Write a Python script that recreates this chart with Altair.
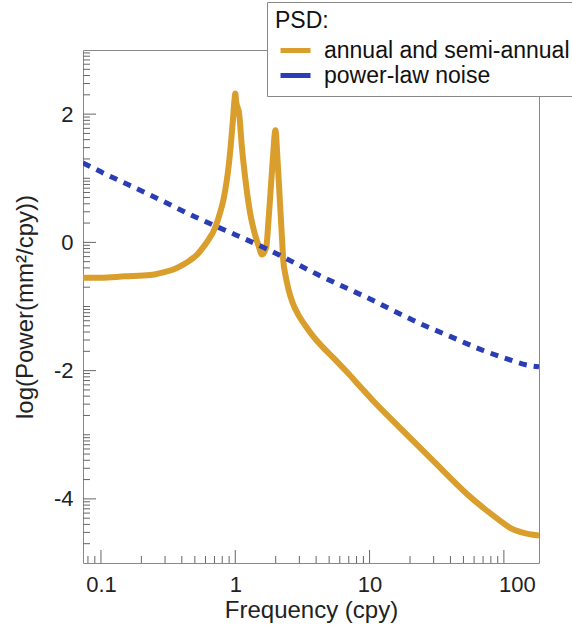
import altair as alt
import pandas as pd
import numpy as np

SERIES = ["annual and semi-annual", "power-law noise"]
COLORS = ["#D99E2B", "#2B3DB5"]

# annual + semi-annual PSD (frequency in cpy, log10 power)
seasonal_freq = [0.0735, 0.1, 0.15, 0.232, 0.30, 0.35, 0.40, 0.46, 0.52, 0.58,
                 0.64, 0.68, 0.72, 0.77, 0.81, 0.84, 0.88, 0.92, 0.96, 0.985,
                 1.0, 1.015, 1.07, 1.12, 1.19, 1.29, 1.39, 1.49, 1.58, 1.70,
                 1.77, 1.82, 1.91, 1.99, 2.07, 2.14, 2.23, 2.28, 2.36, 2.49,
                 2.66, 2.95, 3.33, 3.82, 4.46, 5.38, 6.84, 8.27, 10.2, 17.0,
                 30.2, 53.6, 71.3, 95.0, 113.0, 134.0, 154.0, 182.6]
seasonal_logp = [-0.55, -0.55, -0.53, -0.51, -0.46, -0.42, -0.36, -0.28, -0.19, -0.07,
                 0.06, 0.15, 0.27, 0.46, 0.63, 0.80, 1.08, 1.45, 1.90, 2.20,
                 2.32, 2.20, 2.00, 1.49, 0.98, 0.46, 0.15, -0.05, -0.19, -0.08,
                 0.36, 0.71, 1.34, 1.75, 1.24, 0.71, 0.05, -0.29, -0.50, -0.73,
                 -0.93, -1.13, -1.30, -1.47, -1.63, -1.80, -2.03, -2.22, -2.43, -2.90,
                 -3.42, -3.93, -4.15, -4.35, -4.46, -4.52, -4.55, -4.57]

# power-law noise PSD
noise_freq = [0.0735, 0.1, 0.232, 0.5, 0.72, 1.0, 1.67, 2.28, 4.0, 6.85,
              10.0, 17.0, 24.0, 40.2, 71.0, 100.0, 154.0, 182.6]
noise_logp = [1.24, 1.10, 0.74, 0.40, 0.25, 0.12, -0.09, -0.23, -0.49, -0.72,
              -0.88, -1.12, -1.27, -1.47, -1.69, -1.80, -1.92, -1.94]

x_tick_labels = [0.1, 1, 10, 100]
y_tick_labels = [-4, -2, 0, 2]
X_DOMAIN = [0.0735, 182.6]
Y_DOMAIN = [-5, 3]

W, H = 456, 513
FONT = "Liberation Sans"

df = pd.concat([
    pd.DataFrame({"freq": seasonal_freq, "logp": seasonal_logp, "series": SERIES[0]}),
    pd.DataFrame({"freq": noise_freq, "logp": noise_logp, "series": SERIES[1]}),
], ignore_index=True)

# inward tick positions (log-style minor ticks on both axes)
xt_major, xt_minor = [], []
for d in range(-2, 3):
    for k in range(1, 10):
        f = k * 10.0 ** d
        if X_DOMAIN[0] <= f <= X_DOMAIN[1]:
            (xt_major if k == 1 else xt_minor).append(f)
yt_major, yt_minor = [], []
for n in range(-5, 3):
    for k in range(1, 10):
        v = n + np.log10(k)
        if Y_DOMAIN[0] < v < Y_DOMAIN[1]:
            (yt_major if (k == 1 and n % 2 == 0) else yt_minor).append(v)

xscale = alt.Scale(type="log", domain=X_DOMAIN, nice=False)
yscale = alt.Scale(domain=Y_DOMAIN, nice=False, zero=False)

xaxis = alt.Axis(
    values=x_tick_labels, format="~g", ticks=False, tickSize=0, domain=False, grid=False,
    labelFontSize=22, labelFont=FONT, labelColor="#222", labelBaseline="alphabetic",
    labelPadding=28,
    labelOffset=alt.condition("datum.value == 100", alt.value(13), alt.value(0)),
    title="Frequency (cpy)", titleFontSize=24, titleFont=FONT, titleFontWeight="normal",
    titleColor="#222", titleBaseline="alphabetic", titleY=54, titleX=W / 2, titleAlign="center",
)
yaxis = alt.Axis(
    values=y_tick_labels, labelExpr="datum.value + ''", ticks=False, tickSize=0,
    domain=False, grid=False, labelFontSize=22, labelFont=FONT, labelColor="#222",
    labelPadding=10,
    title="log(Power(mm²/cpy))", titleFontSize=24, titleFont=FONT, titleFontWeight="normal",
    titleColor="#222", titleAngle=270, titleBaseline="bottom", titleAlign="center",
    titleX=-46, titleY=H / 2,
)

def X():
    return alt.X("freq:Q", scale=xscale, axis=xaxis)

def Y():
    return alt.Y("logp:Q", scale=yscale, axis=yaxis)

legend = alt.Legend(
    orient="none", legendX=184, legendY=-48, direction="vertical",
    title="PSD:", titleFontSize=23, titleFont=FONT, titleFontWeight="normal",
    titleColor="#111", titlePadding=5, titleAnchor="start",
    labelFontSize=23, labelFont=FONT, labelColor="#111", labelLimit=500,
    labelOffset=16, symbolOffset=8,
    symbolType="M-1.5,0H1.5", symbolSize=400, symbolStrokeWidth=5,
    fillColor="white", strokeColor="#888", padding=8, rowPadding=0, cornerRadius=0,
)
color = alt.Color("series:N", scale=alt.Scale(domain=SERIES, range=COLORS), legend=legend)

base = alt.Chart(df)
seasonal = base.transform_filter(alt.datum.series == SERIES[0]).mark_line(
    strokeWidth=6, interpolate="monotone", clip=True
).encode(x=X(), y=Y(), color=color)
noise = base.transform_filter(alt.datum.series == SERIES[1]).mark_line(
    strokeWidth=5, strokeDash=[8, 7], strokeCap="butt", interpolate="monotone", clip=True
).encode(x=X(), y=Y(), color=color)

TICK = "#666"
x_major = alt.Chart(pd.DataFrame({"freq": xt_major})).mark_rule(color=TICK, strokeWidth=1).encode(
    x=X(), y=alt.value(H), y2=alt.value(H - 13))
x_minor = alt.Chart(pd.DataFrame({"freq": xt_minor})).mark_rule(color=TICK, strokeWidth=1).encode(
    x=X(), y=alt.value(H), y2=alt.value(H - 7))
y_major = alt.Chart(pd.DataFrame({"logp": yt_major})).mark_rule(color=TICK, strokeWidth=1).encode(
    y=Y(), x=alt.value(0), x2=alt.value(13))
y_minor = alt.Chart(pd.DataFrame({"logp": yt_minor})).mark_rule(color=TICK, strokeWidth=1).encode(
    y=Y(), x=alt.value(0), x2=alt.value(7))

chart = alt.layer(x_major, x_minor, y_major, y_minor, seasonal, noise).properties(
    width=W, height=H,
    autosize=alt.AutoSizeParams(type="none"),
    padding={"left": 83, "top": 50, "right": 33, "bottom": 67},
).configure(font=FONT).configure_view(stroke="#888", strokeWidth=1)

chart.save("out.html", embed_options={"renderer": "svg", "actions": False})
